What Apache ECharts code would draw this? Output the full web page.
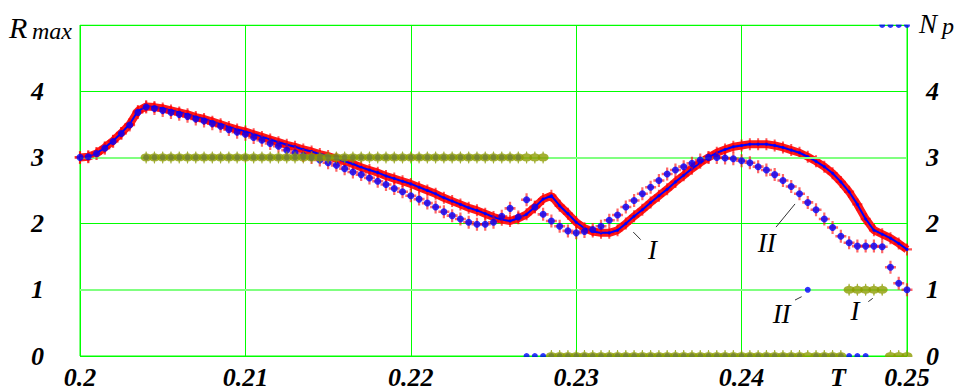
<!DOCTYPE html>
<html><head><meta charset="utf-8">
<script src="https://cdn.jsdelivr.net/npm/echarts@6/dist/echarts.min.js"></script>
<style>html,body{margin:0;padding:0;background:#fff}#c{width:957px;height:390px}</style>
</head><body><div id="c"></div>
<script>
// Sample points T
const T = [
0.2,0.2005,0.201,0.2015,0.202,0.2025,0.203,0.2035,0.204,0.2045,
0.205,0.2055,0.206,0.2065,0.207,0.2075,0.208,0.2085,0.209,0.2095,
0.21,0.2105,0.211,0.2115,0.212,0.2125,0.213,0.2135,0.214,0.2145,
0.215,0.2155,0.216,0.2165,0.217,0.2175,0.218,0.2185,0.219,0.2195,
0.22,0.2205,0.221,0.2215,0.222,0.2225,0.223,0.2235,0.224,0.2245,
0.225,0.2255,0.226,0.2265,0.227,0.2275,0.228,0.2285,0.229,0.2295,
0.23,0.2305,0.231,0.2315,0.232,0.2325,0.233,0.2335,0.234,0.2345,
0.235,0.2355,0.236,0.2365,0.237,0.2375,0.238,0.2385,0.239,0.2395,
0.24,0.2405,0.241,0.2415,0.242,0.2425,0.243,0.2435,0.244,0.2445,
0.245,0.2455,0.246,0.2465,0.247,0.2475,0.248,0.2485,0.249,0.2495,
0.25];
// Curve I : Rmax
const R_I = [
3.00,3.01,3.06,3.15,3.25,3.37,3.50,3.70,3.77,3.76,
3.74,3.71,3.68,3.65,3.61,3.58,3.54,3.50,3.46,3.42,
3.39,3.35,3.31,3.27,3.23,3.19,3.16,3.12,3.09,3.05,
3.02,2.98,2.94,2.90,2.85,2.81,2.77,2.72,2.68,2.64,
2.60,2.55,2.50,2.45,2.39,2.34,2.29,2.24,2.20,2.15,
2.10,2.06,2.04,2.08,2.14,2.25,2.37,2.42,2.27,2.15,
2.02,1.93,1.88,1.86,1.86,1.90,2.00,2.11,2.21,2.32,
2.42,2.52,2.63,2.73,2.83,2.92,3.00,3.07,3.12,3.16,
3.18,3.20,3.20,3.20,3.18,3.15,3.11,3.07,3.01,2.94,
2.86,2.76,2.63,2.48,2.29,2.07,1.90,1.84,1.78,1.70,
1.61];
// Curve II : Rmax
const R_II = [
3.00,3.01,3.06,3.14,3.24,3.36,3.49,3.68,3.76,3.74,
3.71,3.68,3.65,3.62,3.58,3.55,3.51,3.47,3.42,3.38,
3.35,3.30,3.26,3.21,3.17,3.11,3.07,3.03,3.00,2.96,
2.92,2.88,2.83,2.78,2.74,2.69,2.64,2.59,2.53,2.48,
2.42,2.37,2.31,2.25,2.18,2.12,2.07,2.02,1.99,1.99,
2.02,2.11,2.23,2.10,2.36,2.25,2.14,2.04,1.96,1.89,
1.86,1.88,1.91,1.96,2.05,2.13,2.25,2.35,2.45,2.55,
2.65,2.75,2.81,2.86,2.91,2.96,3.00,3.00,2.99,2.98,
2.95,2.92,2.86,2.81,2.74,2.65,2.56,2.45,2.32,2.21,
2.07,1.94,1.81,1.71,1.66,1.66,1.66,1.65,1.34,1.10,
1.00];
// Np for curve I (olive)
const NP_I = [
null,null,null,null,null,null,null,null,3,3,
3,3,3,3,3,3,3,3,3,3,
3,3,3,3,3,3,3,3,3,3,
3,3,3,3,3,3,3,3,3,3,
3,3,3,3,3,3,3,3,3,3,
3,3,3,3,3,3,3,0,0,0,
0,0,0,0,0,0,0,0,0,0,
0,0,0,0,0,0,0,0,0,0,
0,0,0,0,0,0,0,0,0,0,
0,0,0,1,1,1,1,1,0,0,
0];
// Np for curve II (blue)
const NP_II = [
null,null,null,null,null,null,null,null,3,3,
3,3,3,3,3,3,3,3,3,3,
3,3,3,3,3,3,3,3,3,3,
3,3,3,3,3,3,3,3,3,3,
3,3,3,3,3,3,3,3,3,3,
3,3,3,3,0,0,0,0,0,0,
0,0,0,0,0,0,0,0,0,0,
0,0,0,0,0,0,0,0,0,0,
0,0,0,0,0,0,0,0,1,0,
0,0,0,0,0,0,null,5,5,5,
5];
const X_TICK_LABELS = ['0.2','0.21','0.22','0.23','0.24','0.25'];
const Y_TICK_LABELS = ['0','1','2','3','4',''];
const ANNOT_TEXT = ['I','II','II','I'];
const ANNOT_POS = [[0.23461,1.607],[0.24152,1.712],[0.24242,0.631],[0.24686,0.683]];
const LEADERS = [
  [[0.23345,1.872],[0.23390,1.757]],
  [[0.24208,1.947],[0.24323,2.297]],
  [[0.24323,0.845],[0.24363,0.896]],
  [[0.24766,0.821],[0.24793,0.871]]
];

function pairs(ys){ const out=[]; T.forEach((t,i)=>{ if(ys[i]!=null) out.push([t,ys[i]]); }); return out; }

const SERIF = 'Liberation Serif';
const CROSS = 'path://M4,0H6V4H10V6H6V10H4V6H0V4H4Z';
const OLIVE = 'path://M0,5C0,2.5 3,1.8 4.2,1.8L4.6,0L5.4,0L5.8,1.8C7,1.8 10,2.5 10,5C10,7.5 7,8.2 5.8,8.2L5.4,10L4.6,10L4.2,8.2C3,8.2 0,7.5 0,5Z';
const tickFont = {fontFamily:SERIF, fontStyle:'italic', fontWeight:'bold', fontSize:26, color:'#000'};
function txt(s, x, y, size, bold, align){
  return {type:'text', z:60, style:{text:s, x:x, y:y, align:align||'left', verticalAlign:'middle',
    fontFamily:SERIF, fontStyle:'italic', fontWeight:bold?'bold':'normal', fontSize:size, fill:'#000'}};
}

const chart = echarts.init(document.getElementById('c'), null, {renderer:'svg'});
const option = {
  animation:false,
  textStyle:{fontFamily:SERIF},
  grid:{left:80, right:50, top:25, bottom:32, show:true, borderColor:'#00ff00', borderWidth:1, backgroundColor:'transparent'},
  xAxis:{type:'value', min:0.2, max:0.25, interval:0.01,
    axisLine:{show:false}, axisTick:{show:false},
    splitLine:{show:true, lineStyle:{color:'#00ff00', width:1}},
    axisLabel:Object.assign({margin:8, formatter:(v,i)=>X_TICK_LABELS[i]}, tickFont)},
  yAxis:[
    {type:'value', min:0, max:5, interval:1, position:'left',
     axisLine:{show:false}, axisTick:{show:false},
     splitLine:{show:true, lineStyle:{color:'#00ff00', width:1}},
     axisLabel:Object.assign({margin:36, formatter:(v,i)=>Y_TICK_LABELS[i]}, tickFont)},
    {type:'value', min:0, max:5, interval:1, position:'right',
     axisLine:{show:false}, axisTick:{show:false}, splitLine:{show:false},
     axisLabel:Object.assign({margin:19, formatter:(v,i)=>Y_TICK_LABELS[i]}, tickFont)}
  ],
  series:[
    {type:'line', data:pairs(R_I), showSymbol:false, z:2,
     lineStyle:{color:'#ff1a1a', width:8},
     markLine:{silent:true, symbol:'none', label:{show:false},
       lineStyle:{color:'#80ff80', width:2, type:'solid'},
       data:[{yAxis:1},{yAxis:3}]}},
    {type:'scatter', data:pairs(R_I), symbol:CROSS, symbolSize:[10,12], z:3,
     itemStyle:{color:'rgba(255,0,0,0.85)'}},
    {type:'line', data:pairs(R_I), symbol:'circle', symbolSize:3, z:4,
     lineStyle:{color:'#0000ff', width:2}, itemStyle:{color:'#0000ff'}},
    {type:'scatter', data:pairs(R_II), symbol:CROSS, symbolSize:[11,13], z:5,
     itemStyle:{color:'rgba(255,0,0,0.75)'}},
    {type:'scatter', data:pairs(R_II), symbol:'circle', symbolSize:7, z:6,
     itemStyle:{color:'#0000ff'}},
    {type:'scatter', yAxisIndex:1, data:pairs(NP_II), symbol:'circle', symbolSize:6, z:6,
     itemStyle:{color:'#0000ff'}},
    {type:'scatter', yAxisIndex:1, data:pairs(NP_I), symbol:OLIVE, symbolSize:[11,12], z:7,
     itemStyle:{color:'#8c9c00'}}
  ]
};
chart.setOption(option);

const px = (t,r)=>chart.convertToPixel({xAxisIndex:0, yAxisIndex:0}, [t,r]);
const g = [];
const bl = px(0.2,0), tr = px(0.25,5);
g.push({type:'rect', z:50, shape:{x:bl[0]-6, y:bl[1]+1, width:tr[0]-bl[0]+12, height:7}, style:{fill:'#fff'}});
g.push({type:'rect', z:50, shape:{x:bl[0]-6, y:tr[1]-8, width:tr[0]-bl[0]+12, height:7.5}, style:{fill:'#fff'}});
ANNOT_TEXT.forEach((s,i)=>{
  const p = px(ANNOT_POS[i][0], ANNOT_POS[i][1]);
  g.push(txt(s, p[0], p[1], 27, false, 'center'));
  const a = px(LEADERS[i][0][0], LEADERS[i][0][1]), b = px(LEADERS[i][1][0], LEADERS[i][1][1]);
  g.push({type:'line', z:60, shape:{x1:a[0], y1:a[1], x2:b[0], y2:b[1]}, style:{stroke:'#333', lineWidth:1}});
});
const tp = px(0.24583, 0);
g.push(txt('T', tp[0], tp[1]+21, 26, true, 'center'));
g.push(txt('R', 9, 27, 30, false));
g.push(txt('max', 32, 31, 24, false));
g.push(txt('N', 919, 24, 27, false));
g.push(txt('p', 942, 26, 24, false));
chart.setOption({graphic:g});
</script>
</body></html>
